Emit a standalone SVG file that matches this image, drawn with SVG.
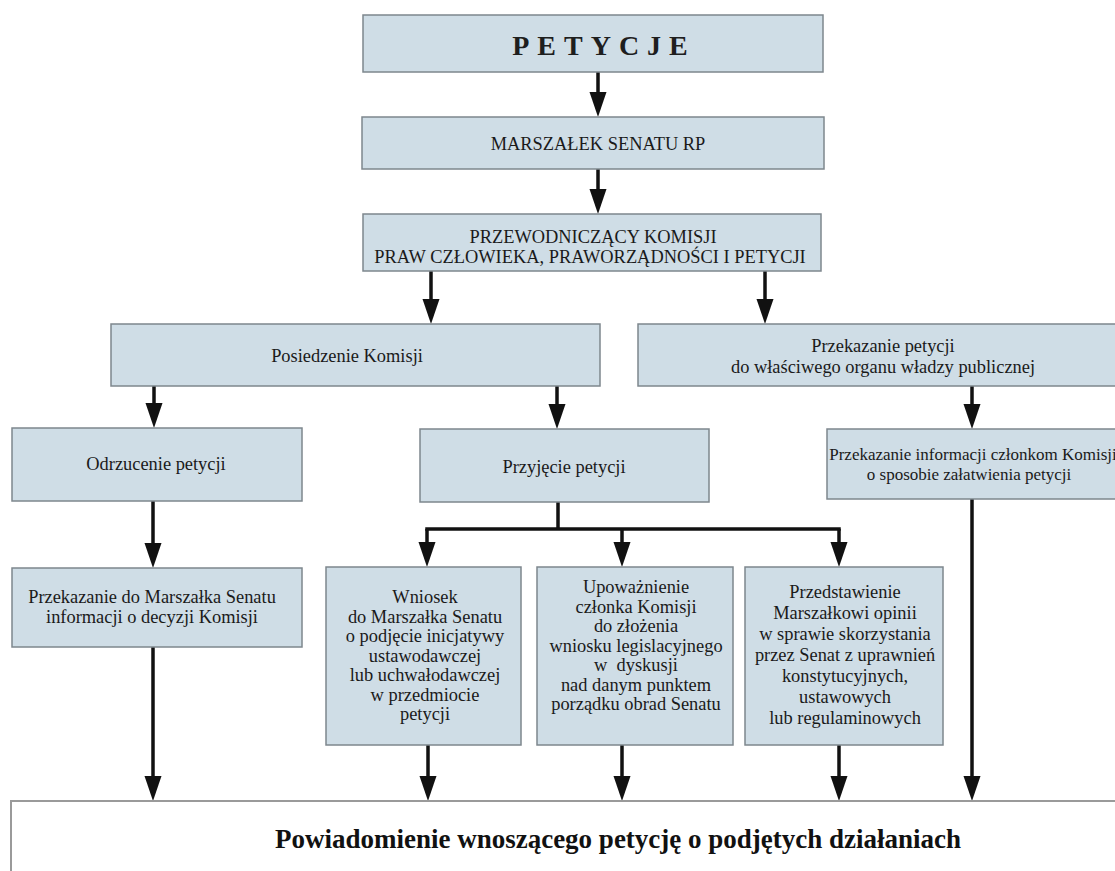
<svg xmlns="http://www.w3.org/2000/svg" width="1115" height="871" viewBox="0 0 1115 871">
<style>
.box{fill:#cfdde6;stroke:#7e878d;stroke-width:1.5}
.fin{fill:#ffffff;stroke:#9a9a9a;stroke-width:2}
.t{font-family:"Liberation Serif","Times New Roman",serif;font-size:18.4px;fill:#1a1a1a;text-anchor:middle}
.s{font-size:17px}
.title{font-family:"Liberation Serif","Times New Roman",serif;font-size:28px;font-weight:bold;fill:#1e1e1e;text-anchor:middle;letter-spacing:8px}
.fint{font-family:"Liberation Serif","Times New Roman",serif;font-size:27px;font-weight:bold;fill:#111;text-anchor:middle}
.c{fill:none;stroke:#111;stroke-width:3.5}
</style>
<defs>
<marker id="ah" markerUnits="userSpaceOnUse" markerWidth="26" markerHeight="18" viewBox="0 -9 26 18" refX="4" refY="0" orient="auto" overflow="visible">
<path d="M0,-8.5 L25,0 L0,8.5 Z" fill="#111"/>
</marker>
</defs>
<rect width="1115" height="871" fill="#ffffff"/>

<g id="connectors">
<line class="c" x1="598" y1="72" x2="598" y2="96" marker-end="url(#ah)"/>
<line class="c" x1="598" y1="169" x2="598" y2="193" marker-end="url(#ah)"/>
<line class="c" x1="431" y1="271" x2="431" y2="303" marker-end="url(#ah)"/>
<line class="c" x1="765" y1="271" x2="765" y2="303" marker-end="url(#ah)"/>
<line class="c" x1="154" y1="386" x2="154" y2="407" marker-end="url(#ah)"/>
<line class="c" x1="557" y1="386" x2="557" y2="408" marker-end="url(#ah)"/>
<line class="c" x1="972" y1="386" x2="972" y2="408" marker-end="url(#ah)"/>
<line class="c" x1="153" y1="501" x2="153" y2="547" marker-end="url(#ah)"/>
<polyline class="c" points="558,502 558,529"/>
<polyline class="c" points="425.25,529 840.75,529"/>
<line class="c" x1="427" y1="529" x2="427" y2="546" marker-end="url(#ah)"/>
<line class="c" x1="622" y1="529" x2="622" y2="546" marker-end="url(#ah)"/>
<line class="c" x1="839" y1="529" x2="839" y2="546" marker-end="url(#ah)"/>
<line class="c" x1="153" y1="647" x2="153" y2="780" marker-end="url(#ah)"/>
<line class="c" x1="428" y1="745" x2="428" y2="780" marker-end="url(#ah)"/>
<line class="c" x1="622" y1="745" x2="622" y2="780" marker-end="url(#ah)"/>
<line class="c" x1="839" y1="745" x2="839" y2="780" marker-end="url(#ah)"/>
<line class="c" x1="972" y1="499" x2="972" y2="780" marker-end="url(#ah)"/>
</g>

<g id="n-petycje">
<rect class="box" x="363" y="15" width="460" height="57"/>
<text class="title" x="604" y="55">PETYCJE</text>
</g>
<g id="n-marszalek">
<rect class="box" x="362" y="117" width="462" height="52"/>
<text class="t" x="598" y="150">MARSZAŁEK SENATU RP</text>
</g>
<g id="n-przewodniczacy">
<rect class="box" x="363" y="214" width="458" height="57"/>
<text class="t" x="593" y="243">PRZEWODNICZĄCY KOMISJI</text>
<text class="t" x="590" y="263">PRAW CZŁOWIEKA, PRAWORZĄDNOŚCI I PETYCJI</text>
</g>
<g id="n-posiedzenie">
<rect class="box" x="111" y="324" width="489" height="62"/>
<text class="t" x="347" y="362">Posiedzenie Komisji</text>
</g>
<g id="n-przekazanie-petycji">
<rect class="box" x="638" y="324" width="495" height="62"/>
<text class="t" x="883" y="352">Przekazanie petycji</text>
<text class="t" x="883" y="373">do właściwego organu władzy publicznej</text>
</g>
<g id="n-odrzucenie">
<rect class="box" x="12" y="428" width="290" height="73"/>
<text class="t" x="156" y="470">Odrzucenie petycji</text>
</g>
<g id="n-przyjecie">
<rect class="box" x="420" y="429" width="289" height="73"/>
<text class="t" x="564" y="473">Przyjęcie petycji</text>
</g>
<g id="n-przekazanie-informacji">
<rect class="box" x="827" y="429" width="300" height="70"/>
<text class="t s" x="973" y="460">Przekazanie informacji członkom Komisji</text>
<text class="t s" x="969" y="480">o sposobie załatwienia petycji</text>
</g>
<g id="n-przekazanie-marszalek">
<rect class="box" x="12" y="568" width="290" height="79"/>
<text class="t" x="152" y="603">Przekazanie do Marszałka Senatu</text>
<text class="t" x="152" y="623">informacji o decyzji Komisji</text>
</g>
<g id="n-wniosek">
<rect class="box" x="326" y="567" width="195" height="178"/>
<text class="t" x="425" y="603">Wniosek</text>
<text class="t" x="425" y="622.5">do Marszałka Senatu</text>
<text class="t" x="425" y="642">o podjęcie inicjatywy</text>
<text class="t" x="425" y="661.5">ustawodawczej</text>
<text class="t" x="425" y="681">lub uchwałodawczej</text>
<text class="t" x="425" y="700.5">w przedmiocie</text>
<text class="t" x="425" y="720">petycji</text>
</g>
<g id="n-upowaznienie">
<rect class="box" x="537" y="567" width="196" height="178"/>
<text class="t" x="636" y="593">Upoważnienie</text>
<text class="t" x="636" y="612.5">członka Komisji</text>
<text class="t" x="636" y="632">do złożenia</text>
<text class="t" x="636" y="651.5">wniosku legislacyjnego</text>
<text class="t" x="636" y="671" xml:space="preserve">w  dyskusji</text>
<text class="t" x="636" y="690.5">nad danym punktem</text>
<text class="t" x="636" y="710">porządku obrad Senatu</text>
</g>
<g id="n-przedstawienie">
<rect class="box" x="745" y="567" width="198" height="178"/>
<text class="t" x="845" y="598">Przedstawienie</text>
<text class="t" x="845" y="619">Marszałkowi opinii</text>
<text class="t" x="845" y="640">w sprawie skorzystania</text>
<text class="t" x="845" y="661">przez Senat z uprawnień</text>
<text class="t" x="845" y="682">konstytucyjnych,</text>
<text class="t" x="845" y="703">ustawowych</text>
<text class="t" x="845" y="724">lub regulaminowych</text>
</g>
<g id="n-powiadomienie">
<rect class="fin" x="11" y="801" width="1120" height="90"/>
<text class="fint" x="618" y="848">Powiadomienie wnoszącego petycję o podjętych działaniach</text>
</g>
</svg>
